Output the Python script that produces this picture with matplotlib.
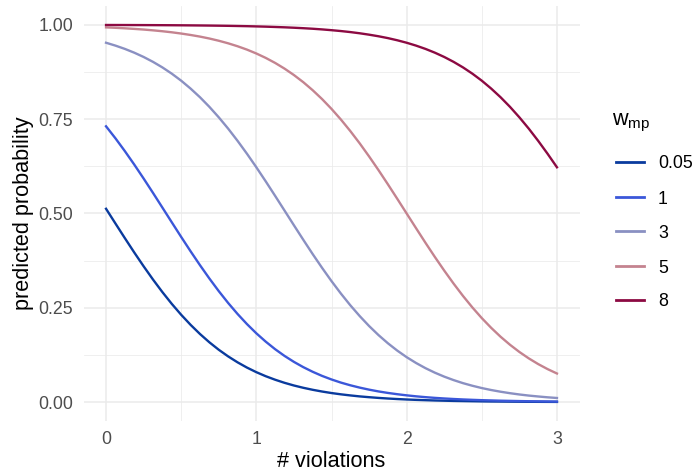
import matplotlib
matplotlib.use("Agg")
import matplotlib.pyplot as plt
from matplotlib.lines import Line2D

plt.rcParams['font.family'] = ['Liberation Sans', 'DejaVu Sans']

# x positions (# violations) where values were read
violations = [0.0, 0.0625, 0.125, 0.1875, 0.25, 0.3125, 0.375, 0.4375, 0.5, 0.5625,
              0.625, 0.6875, 0.75, 0.8125, 0.875, 0.9375, 1.0, 1.0625, 1.125, 1.1875,
              1.25, 1.3125, 1.375, 1.4375, 1.5, 1.5625, 1.625, 1.6875, 1.75, 1.8125,
              1.875, 1.9375, 2.0, 2.0625, 2.125, 2.1875, 2.25, 2.3125, 2.375, 2.4375,
              2.5, 2.5625, 2.625, 2.6875, 2.75, 2.8125, 2.875, 2.9375, 3.0]

w_labels = ["0.05", "1", "3", "5", "8"]

p_005 = [0.5125, 0.4735, 0.4348, 0.3968, 0.3601, 0.3249, 0.2916, 0.2604, 0.2315, 0.2049,
         0.1806, 0.1586, 0.1388, 0.1212, 0.1055, 0.0916, 0.0794, 0.0687, 0.0594, 0.0512,
         0.0441, 0.0380, 0.0327, 0.0281, 0.0241, 0.0207, 0.0178, 0.0152, 0.0131, 0.0112,
         0.0096, 0.0082, 0.0070, 0.0060, 0.0052, 0.0044, 0.0038, 0.0032, 0.0028, 0.0024,
         0.0020, 0.0017, 0.0015, 0.0013, 0.0011, 0.0009, 0.0008, 0.0007, 0.0006]
p_1 = [0.7311, 0.6993, 0.6654, 0.6298, 0.5927, 0.5545, 0.5156, 0.4766, 0.4378, 0.3998,
       0.3630, 0.3277, 0.2942, 0.2628, 0.2337, 0.2069, 0.1824, 0.1603, 0.1403, 0.1225,
       0.1067, 0.0927, 0.0804, 0.0695, 0.0601, 0.0518, 0.0447, 0.0385, 0.0331, 0.0284,
       0.0244, 0.0210, 0.0180, 0.0154, 0.0132, 0.0113, 0.0097, 0.0083, 0.0071, 0.0061,
       0.0052, 0.0045, 0.0038, 0.0033, 0.0028, 0.0024, 0.0021, 0.0018, 0.0015]
p_3 = [0.9526, 0.9450, 0.9363, 0.9263, 0.9149, 0.9019, 0.8872, 0.8706, 0.8520, 0.8311,
       0.8081, 0.7827, 0.7549, 0.7249, 0.6926, 0.6584, 0.6225, 0.5851, 0.5467, 0.5078,
       0.4688, 0.4302, 0.3923, 0.3558, 0.3208, 0.2878, 0.2568, 0.2282, 0.2018, 0.1778,
       0.1561, 0.1366, 0.1192, 0.1038, 0.0901, 0.0781, 0.0676, 0.0584, 0.0503, 0.0434,
       0.0373, 0.0321, 0.0276, 0.0237, 0.0203, 0.0174, 0.0150, 0.0128, 0.0110]
p_5 = [0.9933, 0.9922, 0.9909, 0.9893, 0.9876, 0.9855, 0.9831, 0.9803, 0.9770, 0.9732,
       0.9689, 0.9638, 0.9579, 0.9511, 0.9433, 0.9344, 0.9241, 0.9124, 0.8991, 0.8840,
       0.8670, 0.8480, 0.8267, 0.8032, 0.7773, 0.7491, 0.7186, 0.6860, 0.6513, 0.6151,
       0.5775, 0.5390, 0.5000, 0.4611, 0.4225, 0.3849, 0.3487, 0.3141, 0.2814, 0.2509,
       0.2227, 0.1969, 0.1733, 0.1521, 0.1330, 0.1160, 0.1009, 0.0876, 0.0759]
p_8 = [0.99966, 0.99961, 0.99954, 0.99946, 0.99937, 0.99927, 0.99914, 0.99900, 0.99883, 0.99863,
       0.99840, 0.99813, 0.99780, 0.99745, 0.99700, 0.99652, 0.99590, 0.99524, 0.99440, 0.99351,
       0.99240, 0.99115, 0.98970, 0.98795, 0.98590, 0.98360, 0.98090, 0.97771, 0.97400, 0.96979,
       0.96490, 0.95916, 0.95260, 0.94500, 0.93630, 0.92630, 0.91490, 0.90190, 0.88720, 0.87060,
       0.85200, 0.83110, 0.80810, 0.78270, 0.75490, 0.72490, 0.69260, 0.65840, 0.62250]

series = [p_005, p_1, p_3, p_5, p_8]
colors = ["#0a3b9e", "#3b57d9", "#8a90c2", "#c4838f", "#8c0a42"]

x_ticks = [0, 1, 2, 3]
y_ticks = [0.0, 0.25, 0.5, 0.75, 1.0]
y_ticklabels = ["0.00", "0.25", "0.50", "0.75", "1.00"]

fig = plt.figure(figsize=(6.94, 4.73), dpi=100)
W, H = 694, 473
ax = fig.add_axes([83.5 / W, 1 - 421 / H, (579.5 - 83.5) / W, (421 - 6) / H])

for vals, c, lab in zip(series, colors, w_labels):
    ax.plot(violations, vals, color=c, lw=1.7, label=lab, solid_joinstyle='round')

ax.set_xlim(-0.15, 3.15)
ax.set_ylim(-0.05, 1.05)
ax.set_xticks(x_ticks)
ax.set_xticklabels([str(t) for t in x_ticks])
ax.set_yticks(y_ticks)
ax.set_yticklabels(y_ticklabels)
ax.set_xticks([0.5, 1.5, 2.5], minor=True)
ax.set_yticks([0.125, 0.375, 0.625, 0.875], minor=True)
ax.grid(True, which='major', color='#ebebeb', lw=1.1)
ax.grid(True, which='minor', color='#ebebeb', lw=0.55)
ax.set_axisbelow(True)
for s in ax.spines.values():
    s.set_visible(False)
ax.tick_params(which='both', length=0, labelsize=12.8, labelcolor='#4d4d4d')
ax.tick_params(axis='x', pad=7.5)
ax.tick_params(axis='y', pad=7.5)
ax.set_xlabel("# violations", fontsize=15.6, color='black', labelpad=1.5)
ax.set_ylabel("predicted probability", fontsize=15.6, color='black', labelpad=3)

# legend (manually placed, ggplot-like)
fig.text(612 / W, 1 - 125 / H, r'$\mathregular{w_{mp}}$', fontsize=15.6,
         ha='left', va='baseline', color='black')
key_y = [162, 197, 231, 266, 300]
for yy, c, lab in zip(key_y, colors, w_labels):
    fig.add_artist(Line2D([616 / W, 644 / W], [1 - yy / H, 1 - yy / H],
                          transform=fig.transFigure, color=c, lw=2.0))
    fig.text(658 / W, 1 - yy / H, lab, fontsize=12.8, ha='left', va='center_baseline',
             color='black')

fig.savefig("out.png", dpi=100)
